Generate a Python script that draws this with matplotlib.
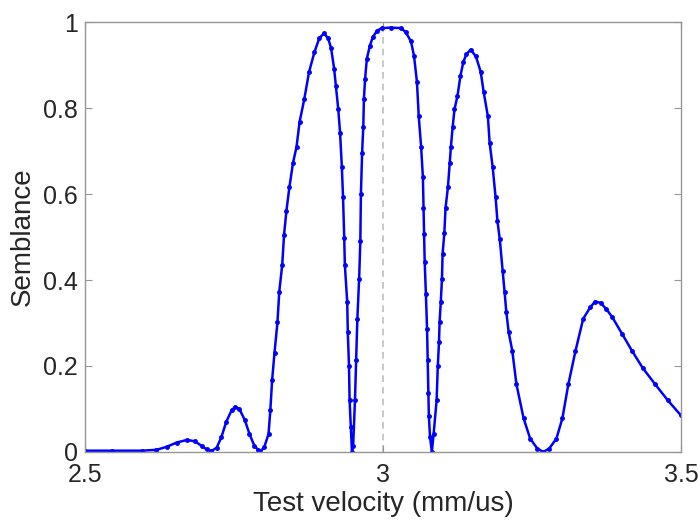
import matplotlib
matplotlib.use("Agg")
import matplotlib.pyplot as plt

velocity = [2.500, 2.545, 2.595, 2.620, 2.637, 2.654, 2.671, 2.684, 2.696, 2.704,
            2.712, 2.721, 2.729, 2.737, 2.746, 2.752, 2.759, 2.768, 2.776, 2.784,
            2.791, 2.794, 2.801, 2.808, 2.811, 2.814, 2.818, 2.823, 2.826, 2.831,
            2.834, 2.838, 2.843, 2.849, 2.855, 2.860, 2.868, 2.876, 2.885, 2.893,
            2.901, 2.908, 2.913, 2.918, 2.921, 2.925, 2.928, 2.931, 2.933, 2.935,
            2.936, 2.940, 2.941, 2.943, 2.944, 2.946, 2.948, 2.950, 2.953, 2.955,
            2.957, 2.960, 2.962, 2.963, 2.965, 2.967, 2.968, 2.970, 2.973, 2.978,
            2.983, 2.990, 2.998, 3.013, 3.030, 3.038, 3.047, 3.052, 3.057, 3.060,
            3.064, 3.067, 3.068, 3.069, 3.070, 3.072, 3.074, 3.075, 3.076, 3.077,
            3.079, 3.082, 3.085, 3.090, 3.092, 3.094, 3.095, 3.097, 3.099, 3.100,
            3.103, 3.105, 3.109, 3.112, 3.114, 3.117, 3.120, 3.125, 3.130, 3.135,
            3.140, 3.147, 3.156, 3.164, 3.169, 3.176, 3.179, 3.184, 3.189, 3.192,
            3.196, 3.201, 3.204, 3.207, 3.211, 3.217, 3.224, 3.236, 3.247, 3.259,
            3.269, 3.279, 3.291, 3.301, 3.311, 3.323, 3.336, 3.348, 3.356, 3.365,
            3.375, 3.385, 3.401, 3.418, 3.436, 3.457, 3.478, 3.500]
semblance = [0.003, 0.003, 0.003, 0.005, 0.012, 0.022, 0.028, 0.025, 0.014, 0.006,
             0.002, 0.010, 0.035, 0.070, 0.097, 0.105, 0.100, 0.075, 0.042, 0.015,
             0.004, 0.000, 0.012, 0.042, 0.097, 0.167, 0.231, 0.302, 0.373, 0.436,
             0.505, 0.561, 0.616, 0.672, 0.710, 0.767, 0.821, 0.884, 0.930, 0.962,
             0.974, 0.962, 0.939, 0.892, 0.851, 0.797, 0.743, 0.663, 0.592, 0.498,
             0.436, 0.349, 0.278, 0.200, 0.120, 0.059, 0.000, 0.015, 0.120, 0.215,
             0.309, 0.403, 0.490, 0.600, 0.696, 0.757, 0.821, 0.868, 0.915, 0.945,
             0.965, 0.980, 0.986, 0.987, 0.986, 0.977, 0.955, 0.922, 0.861, 0.781,
             0.710, 0.639, 0.568, 0.507, 0.443, 0.368, 0.285, 0.215, 0.137, 0.083,
             0.035, 0.000, 0.042, 0.120, 0.200, 0.255, 0.302, 0.349, 0.403, 0.460,
             0.510, 0.568, 0.616, 0.672, 0.710, 0.757, 0.797, 0.828, 0.875, 0.908,
             0.925, 0.936, 0.920, 0.884, 0.837, 0.781, 0.719, 0.663, 0.592, 0.538,
             0.495, 0.420, 0.373, 0.325, 0.278, 0.235, 0.157, 0.078, 0.031, 0.008,
             0.000, 0.008, 0.031, 0.078, 0.157, 0.235, 0.310, 0.337, 0.350, 0.347,
             0.332, 0.313, 0.275, 0.235, 0.195, 0.157, 0.120, 0.085]
true_velocity = 3.0
x_ticks = [2.5, 3, 3.5]
x_tick_labels = ["2.5", "3", "3.5"]
y_ticks = [0, 0.2, 0.4, 0.6, 0.8, 1]
y_tick_labels = ["0", "0.2", "0.4", "0.6", "0.8", "1"]

plt.rcParams['font.family'] = ['Liberation Sans', 'DejaVu Sans']

fig = plt.figure(figsize=(7.0, 5.23), dpi=100)
ax = fig.add_axes([0.1214, 0.1358, 0.8514, 0.822])

ax.axvline(true_velocity, color='#bfbfbf', linestyle=(0, (4, 3)), linewidth=1.2, zorder=1)
ax.plot(velocity, semblance, color='#0000ff', linewidth=1.8, marker='.', markersize=5, zorder=2)

ax.set_xlim(2.5, 3.5)
ax.set_ylim(0, 1)
ax.set_xticks(x_ticks)
ax.set_xticklabels(x_tick_labels)
ax.set_yticks(y_ticks)
ax.set_yticklabels(y_tick_labels)

for s in ax.spines.values():
    s.set_color('#969696')
    s.set_linewidth(1.0)
ax.tick_params(direction='in', length=5, width=0.8, colors='#969696', labelcolor='#262626',
               labelsize=18, top=True, right=True)
ax.tick_params(axis='x', pad=8)
ax.tick_params(axis='y', pad=5.3)
ax.set_xlabel('Test velocity (mm/us)', fontsize=20, color='#262626', labelpad=3)
ax.set_ylabel('Semblance', fontsize=20, color='#262626', labelpad=5)

fig.savefig('out.png', dpi=100)
